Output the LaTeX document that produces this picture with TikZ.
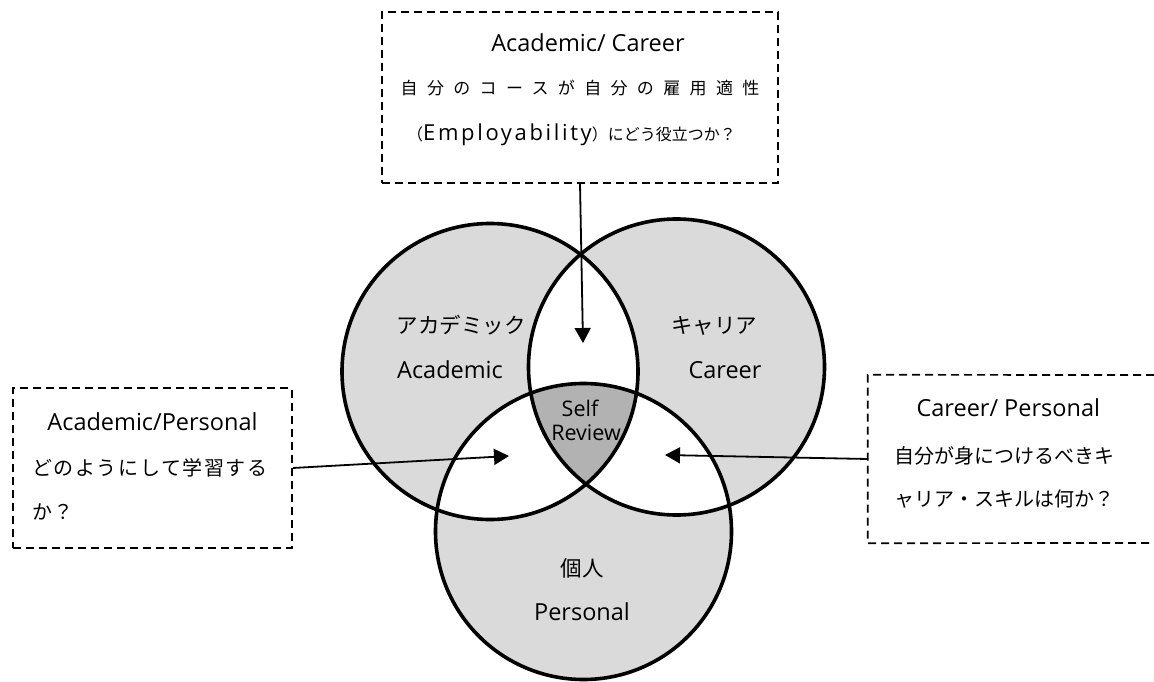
\documentclass[tikz,border=0pt]{standalone}
\usepackage{fontspec}
\setmainfont{Open Sans}
\newfontfamily\jp{Noto Sans CJK JP}
\newfontfamily\jpwideA[LetterSpace=55]{Noto Sans CJK JP}
\newfontfamily\jpwideB[LetterSpace=8]{Noto Sans CJK JP}
\newfontfamily\latwide[LetterSpace=12]{Open Sans}
\usetikzlibrary{arrows.meta}
\definecolor{venngray}{RGB}{218,218,218}
\definecolor{venndark}{RGB}{178,178,178}
\tikzset{
  dbox/.style={draw, line width=1.7pt, dash pattern=on 8pt off 5pt, inner sep=0pt},
  vline/.style={draw, line width=3.6pt},
  arr/.style={line width=1.8pt, -{Triangle[length=15pt,width=16pt]}},
  latT/.style={font=\fontsize{23.5pt}{28pt}\selectfont, inner sep=0pt, anchor=base},
  selfT/.style={font=\fontsize{21.5pt}{24pt}\selectfont, inner sep=0pt, anchor=base},
  jpT/.style={font=\jp\fontsize{21.5pt}{26pt}\selectfont, inner sep=0pt, anchor=base},
  boxjp/.style={font=\jpwideB\fontsize{20pt}{24pt}\selectfont, inner sep=0pt, anchor=base west},
}
\begin{document}
\begin{tikzpicture}[x=1pt,y=-1pt]
\useasboundingbox (0,0) rectangle (1154,682);
\coordinate (L) at (490,371.5);
\coordinate (R) at (676.5,367);
\coordinate (B) at (583.5,531.5);
% fills
\fill[venngray] (L) circle[radius=148pt];
\fill[venngray] (R) circle[radius=148pt];
\fill[venngray] (B) circle[radius=148pt];
\begin{scope}
  \clip (L) circle[radius=148pt];
  \fill[white] (R) circle[radius=148pt];
  \fill[white] (B) circle[radius=148pt];
\end{scope}
\begin{scope}
  \clip (R) circle[radius=148pt];
  \fill[white] (B) circle[radius=148pt];
\end{scope}
\begin{scope}
  \clip (L) circle[radius=148pt];
  \clip (R) circle[radius=148pt];
  \fill[venndark] (B) circle[radius=148pt];
\end{scope}
\draw[vline] (L) circle[radius=148pt];
\draw[vline] (R) circle[radius=148pt];
\draw[vline] (B) circle[radius=148pt];

% circle labels
\node[jpT] (acjp) at (461,333) {アカデミック};
\node[latT] (acen) at (450,378) {Academic};
\node[jpT] (cajp) at (714,333) {キャリア};
\node[latT] (caen) at (725,378) {Career};
\node[jpT] (pejp) at (582,576) {個人};
\node[latT] (peen) at (582,620) {Personal};
\node[selfT] (self) at (580,416) {Self};
\node[selfT] (review) at (586,440) {Review};

% top box
\node[dbox, minimum width=396pt, minimum height=170.7pt] (tbox) at (580,97.3) {};
\node[latT] (ttitle) at (588,51.7) {Academic/ Career};
\node[anchor=base west, inner sep=0pt, font=\jpwideA\fontsize{17pt}{20pt}\selectfont] (tl2) at (400.5,94.8) {自分のコースが自分の雇用適性};
\node[anchor=base west, inner sep=0pt, font=\jp\fontsize{16pt}{20pt}\selectfont] (tl3) at (407,140.5) {（{\latwide\fontsize{22pt}{24pt}\selectfont Employability}）にどう役立つか？};

% left box
\node[dbox, minimum width=279pt, minimum height=159.4pt] (lbox) at (152.5,468) {};
\node[latT] (ltitle) at (152.5,430) {Academic/Personal};
\node[boxjp] (ll2) at (32,475.3) {どのようにして学習する};
\node[boxjp] (ll3) at (32,519.3) {か？};

% right box (open on the right)
\node[inner sep=0pt, minimum width=292pt, minimum height=168pt] (rbox) at (1014,459) {};
\draw[line width=1.7pt, dash pattern=on 8pt off 5pt] (1154,375) -- (rbox.north west) -- (rbox.south west) -- (1154,543);
\node[latT] (rtitle) at (1008.3,416.7) {Career/ Personal};
\node[boxjp, font=\jp\fontsize{20pt}{24pt}\selectfont] (rl2) at (894,463.6) {自分が身につけるべきキ};
\node[boxjp, font=\jp\fontsize{20pt}{24pt}\selectfont] (rl3) at (894,506.6) {ャリア・スキルは何か？};

% arrow targets
\coordinate (tipT) at (583,343);
\coordinate (tipL) at (509,456);
\coordinate (tipR) at (665,455);
\draw[arr] (tbox.south) -- (tipT);
\draw[arr] (lbox.east) -- (tipL);
\draw[arr] (rbox.west) -- (tipR);
\end{tikzpicture}
\end{document}
